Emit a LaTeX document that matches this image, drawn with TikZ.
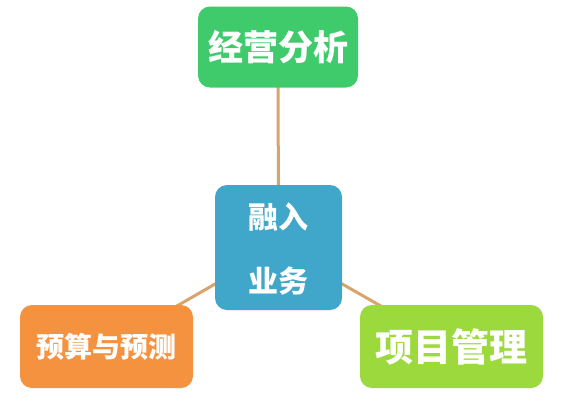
\documentclass[tikz,border=0pt]{standalone}
\usepackage{fontspec}
\newfontfamily\cjk{Noto Sans CJK SC}
\usetikzlibrary{backgrounds}
\definecolor{cgreen}{HTML}{3FCB6B}
\definecolor{cblue}{HTML}{40A6CA}
\definecolor{corange}{HTML}{F5923F}
\definecolor{clime}{HTML}{9CD93D}
\definecolor{cline}{HTML}{D9A36C}
\tikzset{
  box/.style={rounded corners=12pt, draw=none, text=white, align=center, inner sep=0pt, font=\cjk\bfseries},
  link/.style={draw=cline, line width=3pt}
}
\begin{document}
\begin{tikzpicture}[x=1pt,y=-1pt]
\useasboundingbox (0,0) rectangle (562,400);
\node[box, fill=cgreen, minimum width=160pt, minimum height=81pt, font=\cjk\bfseries\fontsize{35}{40}\selectfont] (top) at (278,47) {经营分析};
\node[box, fill=cblue, minimum width=127pt, minimum height=125pt] (c) at (278.5,247.5) {};
\node[text=white, font=\cjk\bfseries\fontsize{30}{34}\selectfont, inner sep=0pt] (t1) at (278,217) {融入};
\node[text=white, font=\cjk\bfseries\fontsize{30}{34}\selectfont, inner sep=0pt] (t2) at (278,281) {业务};
\node[box, fill=corange, minimum width=173pt, minimum height=83pt, font=\cjk\bfseries\fontsize{28}{32}\selectfont] (bl) at (106.5,346.5) {预算与预测};
\node[box, fill=clime, minimum width=183pt, minimum height=83pt, font=\cjk\bfseries\fontsize{38}{42}\selectfont] (br) at (451.5,346.5) {项目管理};
\begin{scope}[on background layer]
\fill[white] (0,0) rectangle (562,400);
\draw[link] (c.center) -- (top.center);
\draw[link] (c.center) -- (bl.center);
\draw[link] (c.center) -- (br.center);
\end{scope}
\end{tikzpicture}
\end{document}
